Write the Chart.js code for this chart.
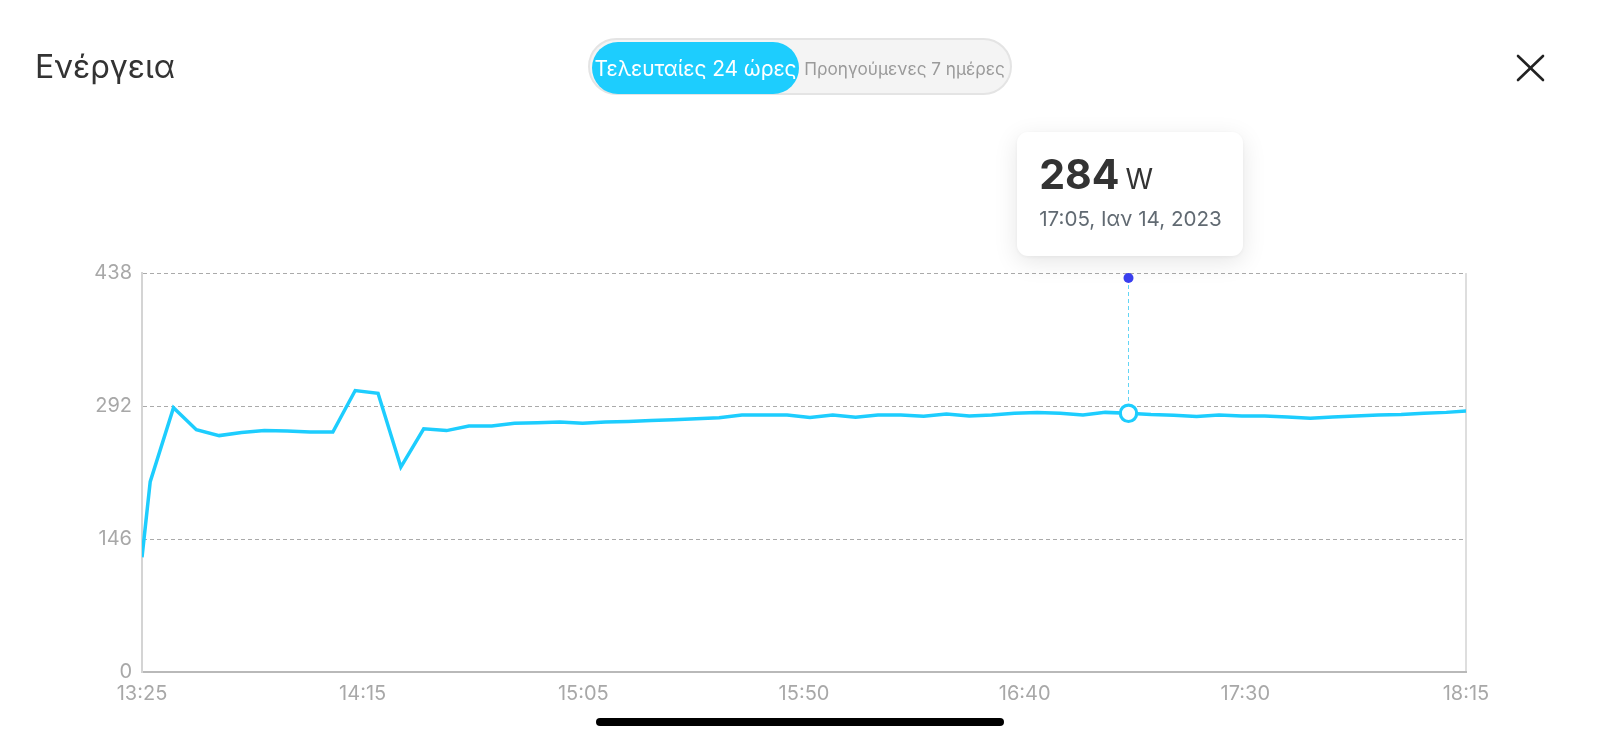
<!DOCTYPE html>
<html>
<head>
<meta charset="utf-8">
<script src="https://cdn.jsdelivr.net/npm/chart.js@4.4.0/dist/chart.umd.min.js"></script>
<style>
html,body{margin:0;padding:0;background:#fff;width:1600px;height:740px;overflow:hidden;font-family:Inter,"Noto Sans",sans-serif;}
#wrap{position:relative;width:1600px;height:740px;}
canvas{position:absolute;left:0;top:0;}
#title{position:absolute;left:35px;top:46px;font-size:32px;color:#333;line-height:42px;white-space:nowrap;}
#toggle{position:absolute;left:588px;top:38px;width:420px;height:53px;border:2px solid #e4e4e4;border-radius:30px;background:#f4f4f4;}
#active{position:absolute;left:2px;top:2px;width:207px;height:52px;border-radius:26px;background:#1dcdfe;color:#fff;font-size:21px;display:flex;align-items:center;justify-content:center;white-space:nowrap;letter-spacing:-0.1px;}
#inactive{position:absolute;left:209px;top:2px;width:211px;height:52px;color:#9a9a9a;font-size:17.2px;display:flex;align-items:center;justify-content:center;white-space:nowrap;}
#close{position:absolute;left:1510px;top:48px;}
#tip{position:absolute;top:132px;width:226px;height:124px;background:#fff;border-radius:11px;box-shadow:0 6px 24px rgba(0,0,0,0.10),0 1px 4px rgba(0,0,0,0.05);}
#tipVal{position:absolute;left:22px;top:22px;white-space:nowrap;color:#333;line-height:1;}
#tipVal b{font-size:41px;font-weight:700;}
#tipVal span{font-size:28px;margin-left:6px;}
#tipDate{position:absolute;left:22px;top:77px;font-size:20.6px;color:#616a72;white-space:nowrap;line-height:1;}
#home{position:absolute;left:596px;top:718px;width:408px;height:8px;border-radius:4px;background:#000;}
</style>
</head>
<body>
<div id="wrap">
  <canvas id="c" width="1600" height="740"></canvas>
  <div id="title">Ενέργεια</div>
  <div id="toggle">
    <div id="active">Τελευταίες 24 ώρες</div>
    <div id="inactive">Προηγούμενες 7 ημέρες</div>
  </div>
  <svg id="close" width="42" height="42" viewBox="0 0 42 42">
    <line x1="8" y1="8" x2="33" y2="32" stroke="#222" stroke-width="2.6" stroke-linecap="round"/>
    <line x1="33" y1="8" x2="8" y2="32" stroke="#222" stroke-width="2.6" stroke-linecap="round"/>
  </svg>
  <div id="tip">
    <div id="tipVal"><b id="tipNum"></b><span id="tipUnit"></span></div>
    <div id="tipDate"></div>
  </div>
  <div id="home"></div>
</div>
<script>
// minutes after 13:25
const minutesSince1325 = [0, 1.8, 6.9, 11.9, 16.9, 21.8, 26.8, 31.8, 36.8, 41.8, 46.7, 51.7,
  56.7, 61.7, 66.7, 71.6, 76.6, 81.6, 86.6, 91.5, 96.5, 101.5,
  106.5, 111.5, 116.4, 121.4, 126.4, 131.4, 136.4, 141.3, 146.3, 151.3,
  156.3, 161.2, 166.2, 171.2, 176.2, 181.2, 186.1, 191.1, 196.1, 201.1,
  206.1, 211.0, 216.0, 221.0, 226.0, 231.0, 235.9, 240.9, 245.9, 250.9,
  255.9, 260.8, 265.8, 270.8, 275.8, 280.8, 285.7, 290];
const powerW = [126, 209, 290, 266, 259.5, 263, 265, 264.5, 263.5, 263.5, 309, 306,
  225, 267, 265, 270, 270, 273, 273.5, 274.5, 273, 274.5,
  275, 276, 277, 278, 279, 282, 282, 282, 279.5, 282,
  279.7, 282, 282, 280.7, 283.3, 281, 282, 284, 285, 284,
  282, 285, 284, 282.6, 281.8, 280.5, 282, 281, 281, 280,
  278.5, 280, 281, 282, 282.6, 284, 285, 286.6];
const xTickLabels = ["13:25", "14:15", "15:05", "15:50", "16:40", "17:30", "18:15"];
const yTicks = [0, 146, 292, 438];
const xRange = [0, 290];
const hoverIndex = 44;
const hoverUnit = "W";
const hoverDateLabel = "17:05, Ιαν 14, 2023";

const lineColor = '#1dcdfe';

document.getElementById('tipNum').textContent = Math.round(powerW[hoverIndex]);
document.getElementById('tipUnit').textContent = hoverUnit;
document.getElementById('tipDate').textContent = hoverDateLabel;

const hoverPlugin = {
  id: 'hoverMarker',
  afterDatasetsDraw(chart) {
    const pt = chart.getDatasetMeta(0).data[hoverIndex];
    const ctx = chart.ctx;
    const x = Math.round(pt.x) + 0.5, y = pt.y;
    const topY = chart.chartArea.top + 5;
    ctx.save();
    ctx.setLineDash([4, 3]);
    ctx.strokeStyle = '#62d5f5';
    ctx.lineWidth = 1;
    ctx.beginPath(); ctx.moveTo(x, topY); ctx.lineTo(x, y); ctx.stroke();
    ctx.setLineDash([]);
    ctx.fillStyle = '#3a3ff0';
    ctx.beginPath(); ctx.arc(x, topY, 5, 0, Math.PI * 2); ctx.fill();
    ctx.fillStyle = '#fff';
    ctx.strokeStyle = lineColor;
    ctx.lineWidth = 3.2;
    ctx.beginPath(); ctx.arc(x, y, 8.2, 0, Math.PI * 2); ctx.fill(); ctx.stroke();
    ctx.restore();
    document.getElementById('tip').style.left = (pt.x - 111) + 'px';
  }
};

new Chart(document.getElementById('c'), {
  type: 'line',
  data: {
    datasets: [{
      data: minutesSince1325.map((m, i) => ({x: m, y: powerW[i]})),
      borderColor: lineColor,
      borderWidth: 3.5,
      pointRadius: 0,
      tension: 0,
      fill: false
    }]
  },
  options: {
    responsive: false,
    devicePixelRatio: 1,
    animation: false,
    events: [],
    layout: {padding: {top: 273, right: 134, bottom: 0, left: 0}},
    plugins: {legend: {display: false}, tooltip: {enabled: false}},
    scales: {
      x: {
        type: 'linear',
        min: xRange[0], max: xRange[1],
        afterBuildTicks: (scale) => {
          const n = xTickLabels.length;
          scale.ticks = xTickLabels.map((l, i) => ({value: xRange[0] + (xRange[1] - xRange[0]) * i / (n - 1)}));
        },
        afterFit: (scale) => { scale.height = 68; },
        ticks: {
          autoSkip: false, maxRotation: 0, padding: 10,
          color: '#a8a8a8', font: {family: 'Inter', size: 20},
          callback: (v, i) => xTickLabels[i]
        },
        grid: {
          drawTicks: false,
          lineWidth: 2,
          color: (c) => c.index === xTickLabels.length - 1 ? '#dedede' : 'rgba(0,0,0,0)'
        },
        border: {display: true, color: '#b9b9b9', width: 2}
      },
      y: {
        min: yTicks[0], max: yTicks[yTicks.length - 1],
        afterBuildTicks: (scale) => { scale.ticks = yTicks.map(v => ({value: v})); },
        afterFit: (scale) => { scale.width = 142; },
        ticks: {
          padding: 10, color: '#a8a8a8', font: {family: 'Inter', size: 20},
          callback: (v) => String(v)
        },
        grid: {drawTicks: false, color: '#aaaaaa', lineWidth: 1},
        border: {display: true, color: '#d4d4d4', width: 2, dash: [4, 3]}
      }
    }
  },
  plugins: [hoverPlugin]
});
</script>
</body>
</html>
